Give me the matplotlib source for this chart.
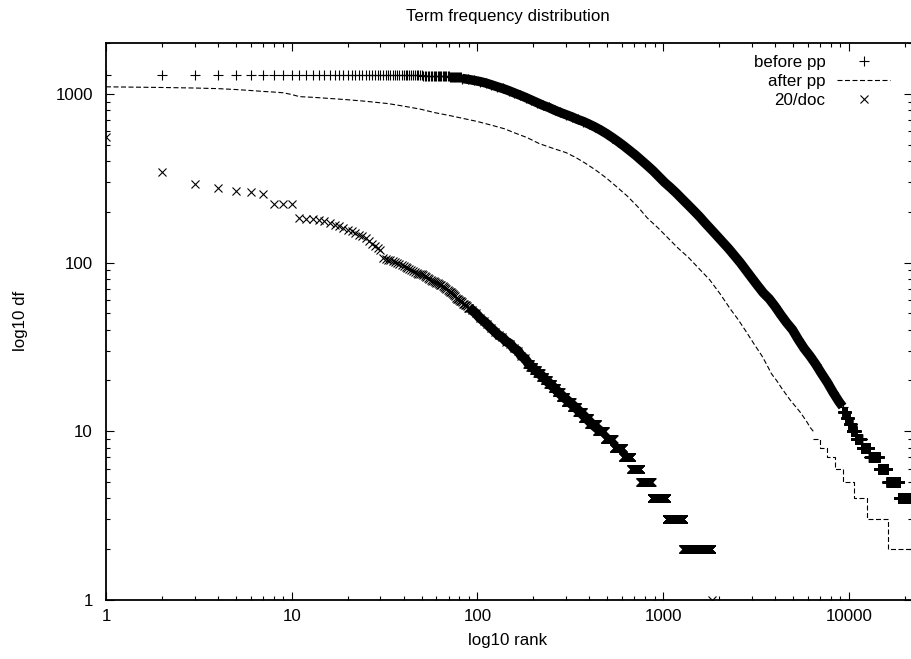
import matplotlib
matplotlib.use('Agg')
from matplotlib import pyplot as plt
from matplotlib.ticker import FixedLocator, LogLocator, NullFormatter

plt.rcParams['font.family'] = ['Liberation Sans', 'DejaVu Sans']
plt.rcParams['lines.scale_dashes'] = False

# before pp: single ranks (every rank drawn separately)
before_rank = list(range(1, 83))
before_df = [1298] * 40 + [1292] * 10 + [1282] * 10 + [1268] * 10 + [1250] * 12
# before pp: dense part, where the markers merge into a band
before_band_rank = [83, 89, 96, 103, 111, 119, 128, 137, 147, 158, 170, 182, 195, 210, 225,
                    242, 260, 279, 300, 322, 346, 372, 400, 430, 462, 496, 533, 573, 616,
                    662, 711, 764, 821, 882, 948, 1019, 1095, 1177, 1265, 1359, 1461, 1570,
                    1687, 1813, 1948, 2093, 2250, 2418, 2598, 2792, 3000, 3224, 3465, 3723,
                    4001, 4300, 4621, 4966, 5337, 5735, 6163, 6623, 7118, 7649, 8220, 8834,
                    9250]
before_band_df = [1232, 1218, 1200, 1182, 1158, 1130, 1100, 1075, 1045, 1012, 980, 950,
                  918, 885, 855, 830, 800, 775, 752, 730, 705, 685, 660, 635, 608, 580,
                  550, 520, 490, 460, 432, 403, 376, 350, 323, 298, 278, 258, 238, 220,
                  203, 187, 171, 157, 144, 132, 121, 110, 100, 90, 81, 73, 66, 61, 55, 49,
                  44, 40, 35, 31, 28, 25, 22, 19.5, 17, 15, 14]
# before pp: low df runs (df, first rank, last rank)
before_run_df = [13, 12, 11, 10, 9, 8, 7, 6, 5, 4]
before_run_first = [9300, 9650, 10000, 10350, 10900, 11700, 12900, 14500, 16100, 18600]
before_run_last = [9649, 9999, 10349, 10899, 11699, 12899, 14499, 16099, 18599, 21500]

# after pp
after_rank = [1, 2, 3, 4, 5, 6, 7, 8, 9, 10, 11, 13, 15, 20, 25, 33, 40, 49, 59, 70, 82,
              100, 120, 140, 157, 185, 215, 255, 300, 340, 382, 435, 494, 560, 640, 730,
              820, 940, 1060, 1200, 1370, 1560, 1780, 2030, 2300, 2530, 2770, 3080, 3400,
              3600, 3830, 4080, 4360, 4810, 5460, 5900, 6200, 6430]
after_df = [1100, 1090, 1082, 1073, 1060, 1046, 1033, 1024, 1014, 990, 962, 953, 943, 922,
            903, 875, 845, 812, 773, 745, 718, 685, 650, 620, 589, 550, 507, 475, 448, 418,
            387, 352, 317, 282, 248, 214, 184, 160, 140, 122, 107, 92, 79, 65, 53, 46, 39.6,
            33, 28, 25, 21.9, 20, 17.9, 15.4, 13, 11.5, 10.5, 10]
after_step_rank = [6430, 6980, 7620, 8410, 9290, 10640, 12500, 16220, 22000]
after_step_df = [9, 8, 7, 6, 5, 4, 3, 2, 2]

# 20/doc: single ranks
doc_rank = list(range(1, 91))
doc_df = [551, 345, 292, 276, 267, 261, 256, 222, 222, 222,
          183, 182, 181, 178, 176, 172, 168, 164, 160, 156,
          153, 150, 146, 143, 139, 134, 129, 125, 122, 119,
          107, 105, 104, 103, 102, 101, 100, 98, 97, 96,
          94, 93, 91, 90, 89, 88, 87, 86, 85, 85,
          84, 83, 82, 81, 80, 79, 78, 78, 77, 76,
          76, 75, 74, 74, 73, 72, 71, 70, 69, 68,
          67, 67, 66, 65, 64, 63, 62, 61, 61, 60,
          59, 59, 58, 57, 57, 56, 56, 55, 54, 54]
# 20/doc: dense band
doc_band_rank = [90, 94, 98, 103, 108, 113, 118, 124, 130, 136, 143, 150, 157, 165, 172,
                 180, 189, 197, 205, 215, 225, 235, 247, 260, 273, 290, 310, 333, 357, 384,
                 415, 460]
doc_band_df = [54, 52, 50, 47, 45, 43, 41, 39, 37, 36, 34, 33, 31, 30, 28, 27, 25, 24, 23,
               22, 21, 20, 19, 18, 17, 16, 15, 14, 13, 12, 11, 10]
# 20/doc: low df runs (df, first rank, last rank)
doc_run_df = [25, 24, 23, 22, 21, 20, 19, 18, 17, 16, 15, 14, 13, 12, 11, 10, 9, 8, 7, 6,
              5, 4, 3, 2, 1]
doc_run_first = [185, 193, 201, 210, 220, 230, 241, 254, 267, 281, 298, 322, 345, 370, 400,
                 441, 486, 542, 608, 673, 753, 867, 1043, 1284, 1830]
doc_run_last = [192, 200, 209, 219, 229, 240, 253, 266, 280, 297, 321, 344, 369, 399, 440,
                485, 541, 607, 672, 752, 866, 1042, 1283, 1815, 1830]

before_all_rank = before_rank + before_band_rank
before_all_df = before_df + before_band_df
for d, a, b in zip(before_run_df, before_run_first, before_run_last):
    before_all_rank = before_all_rank + list(range(a, b + 1))
    before_all_df = before_all_df + [d] * (b + 1 - a)

doc_all_rank = doc_rank + doc_band_rank
doc_all_df = doc_df + doc_band_df
for d, a, b in zip(doc_run_df, doc_run_first, doc_run_last):
    doc_all_rank = doc_all_rank + list(range(a, b + 1))
    doc_all_df = doc_all_df + [d] * (b + 1 - a)

x_ticks = [1, 10, 100, 1000, 10000]
y_ticks = [1, 10, 100, 1000]

W, H = 911, 659
fig = plt.figure(figsize=(W / 100, H / 100), dpi=100)
ax = fig.add_axes([106 / W, 59 / H, 806.5 / W, 557 / H])

# overlapping markers of the dense parts form solid bands
ax.plot(before_band_rank, before_band_df, color='k', lw=6.8, solid_capstyle='butt')
ax.plot(doc_band_rank, doc_band_df, color='k', lw=7.0, solid_capstyle='butt')

ax.plot(before_all_rank, before_all_df, ls='none', marker='+', ms=6.5, mew=0.8, color='k',
        label='before pp')
ax.plot(after_rank, after_df, color='k', lw=0.8, dashes=(3.6, 1.8), label='after pp')
ax.plot(after_step_rank, after_step_df, color='k', lw=0.8, dashes=(3.6, 1.8),
        drawstyle='steps-post')
ax.plot(doc_all_rank, doc_all_df, ls='none', marker='x', ms=5.5, mew=0.8, color='k',
        label='20/doc')

ax.set_xscale('log')
ax.set_yscale('log')
ax.set_xlim(1, 22000)
ax.set_ylim(1, 2000)
ax.xaxis.set_major_locator(FixedLocator(x_ticks))
ax.set_xticklabels([str(t) for t in x_ticks])
ax.yaxis.set_major_locator(FixedLocator(y_ticks))
ax.set_yticklabels([str(t) for t in y_ticks])
ax.xaxis.set_minor_locator(LogLocator(base=10, subs=range(2, 10)))
ax.yaxis.set_minor_locator(LogLocator(base=10, subs=range(2, 10)))
ax.xaxis.set_minor_formatter(NullFormatter())
ax.yaxis.set_minor_formatter(NullFormatter())
ax.tick_params(which='both', direction='in', top=True, right=True, width=0.8,
               labelsize=12.2, color='k')
ax.tick_params(which='major', length=5.5)
ax.tick_params(which='minor', length=3)
ax.tick_params(axis='x', pad=6.5)
ax.tick_params(axis='y', pad=9.5)
for s in ax.spines.values():
    s.set_linewidth(1.3)

fig.text(508 / W, 1 - 16 / H, 'Term frequency distribution', ha='center', va='center',
         fontsize=12.2)
fig.text(508 / W, 1 - 640 / H, 'log10 rank', ha='center', va='center', fontsize=12.2)
fig.text(21 / W, 1 - 321 / H, 'log10 df', ha='center', va='center', rotation=90,
         fontsize=12.2)

ax.legend(loc='upper right', bbox_to_anchor=((890 - 106) / 806.5, (600 - 55) / 557),
          frameon=False, markerfirst=False, fontsize=12.2, handlelength=3.1,
          handletextpad=0.7, labelspacing=0.24, borderpad=0, borderaxespad=0)

fig.savefig('out.png', dpi=100)
